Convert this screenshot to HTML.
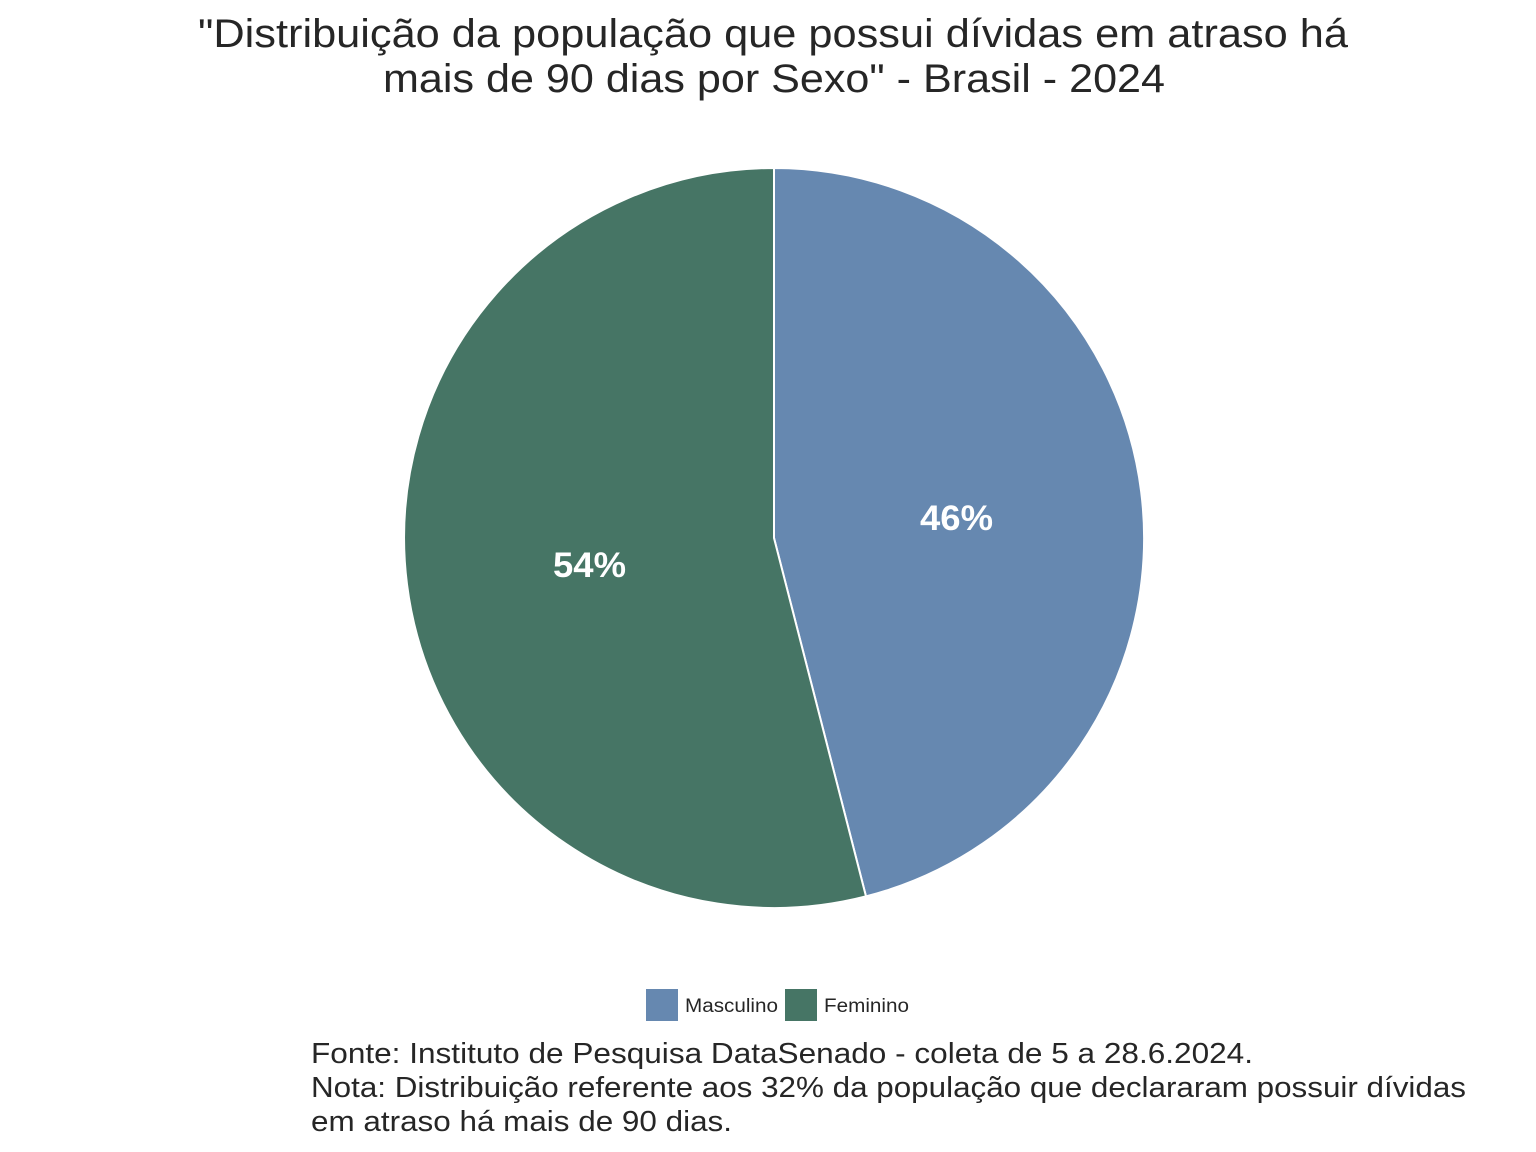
<!DOCTYPE html>
<html><head><meta charset="utf-8"><style>
body{margin:0;background:#fff;}
svg{display:block;font-family:"Liberation Sans",Arial,sans-serif;}
</style></head><body>
<svg width="1536" height="1152" viewBox="0 0 1536 1152">
<rect width="1536" height="1152" fill="#fff"/>
<text x="198" y="47" font-size="40" fill="#262626" textLength="1150" lengthAdjust="spacingAndGlyphs">"Distribuição da população que possui dívidas em atraso há</text>
<text x="383" y="92" font-size="40" fill="#262626" textLength="782" lengthAdjust="spacingAndGlyphs">mais de 90 dias por Sexo" - Brasil - 2024</text>
<path d="M774,538 L774,168 A370,370 0 0 1 866,896.4 Z" fill="#6688b0" stroke="#fff" stroke-width="2"/>
<path d="M774,538 L866,896.4 A370,370 0 1 1 774,168 Z" fill="#467565" stroke="#fff" stroke-width="2"/>
<text x="920" y="530" font-size="35" font-weight="bold" fill="#fff" textLength="73" lengthAdjust="spacingAndGlyphs">46%</text>
<text x="553" y="577" font-size="35" font-weight="bold" fill="#fff" textLength="73" lengthAdjust="spacingAndGlyphs">54%</text>
<rect x="646" y="989" width="32" height="32" fill="#6688b0"/>
<text x="685" y="1012" font-size="19" fill="#262626" textLength="93" lengthAdjust="spacingAndGlyphs">Masculino</text>
<rect x="785" y="989" width="32" height="32" fill="#467565"/>
<text x="824" y="1012" font-size="19" fill="#262626" textLength="85" lengthAdjust="spacingAndGlyphs">Feminino</text>
<text x="311" y="1063" font-size="29" fill="#262626" textLength="942" lengthAdjust="spacingAndGlyphs">Fonte: Instituto de Pesquisa DataSenado - coleta de 5 a 28.6.2024.</text>
<text x="311" y="1097" font-size="29" fill="#262626" textLength="1155" lengthAdjust="spacingAndGlyphs">Nota: Distribuição referente aos 32% da população que declararam possuir dívidas</text>
<text x="311" y="1131" font-size="29" fill="#262626" textLength="421" lengthAdjust="spacingAndGlyphs">em atraso há mais de 90 dias.</text>
</svg>
</body></html>
